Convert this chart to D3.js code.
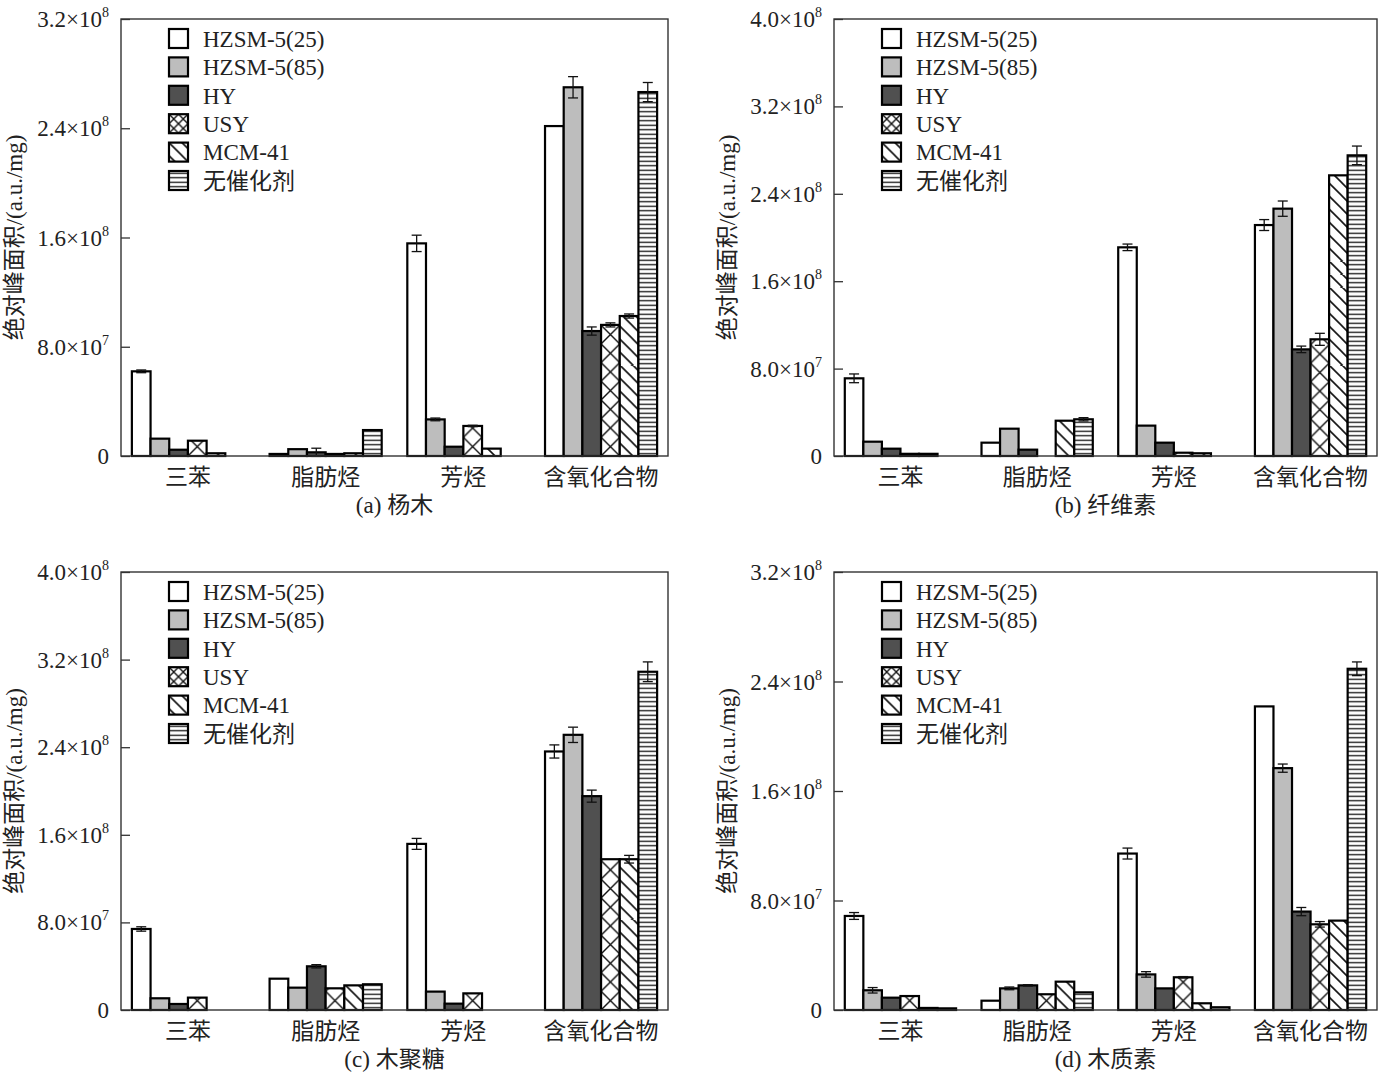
<!DOCTYPE html>
<html>
<head>
<meta charset="utf-8">
<script src="https://cdn.jsdelivr.net/npm/d3@7"></script>
<style>
  body { margin: 0; background: #fff; }
  text { font-family: "Liberation Serif", "Noto Sans CJK SC", serif; fill: #222; }
</style>
</head>
<body>
<svg id="chart" width="1379" height="1074"></svg>
<script>
// categories and series (values in units of 1e7 a.u./mg, null = no bar)
var categories = ['三苯', '脂肪烃', '芳烃', '含氧化合物'];
var catalysts = ['HZSM-5(25)', 'HZSM-5(85)', 'HY', 'USY', 'MCM-41', '无催化剂'];

// (a) 杨木
var poplarValues = [
  [6.2, 0.15, 15.57, 24.16],
  [1.27, 0.5, 2.68, 27.0],
  [0.46, 0.27, 0.68, 9.15],
  [1.12, 0.15, 2.2, 9.6],
  [0.2, 0.2, 0.54, 10.25],
  [null, 1.9, null, 26.65]
];
var poplarErrors = [
  [0.1, 0, 0.6, 0],
  [0, 0, 0.1, 0.78],
  [0, 0.3, 0, 0.3],
  [0, 0, 0.05, 0.15],
  [0, 0, 0, 0.15],
  [0, 0, 0, 0.7]
];

// (b) 纤维素
var celluloseValues = [
  [7.11, 1.22, 19.1, 21.14],
  [1.31, 2.5, 2.78, 22.64],
  [0.67, 0.58, 1.22, 9.76],
  [0.2, null, 0.3, 10.68],
  [0.2, 3.23, 0.25, 25.69],
  [null, 3.36, null, 27.52]
];
var celluloseErrors = [
  [0.4, 0, 0.3, 0.5],
  [0, 0, 0, 0.7],
  [0, 0, 0, 0.3],
  [0, 0, 0, 0.55],
  [0, 0, 0, 0],
  [0, 0.15, 0, 0.85]
];

// (c) 木聚糖
var xylanValues = [
  [7.4, 2.86, 15.17, 23.61],
  [1.07, 2.04, 1.68, 25.13],
  [0.55, 3.99, 0.58, 19.53],
  [1.13, 1.98, 1.52, 13.77],
  [null, 2.25, null, 13.77],
  [null, 2.35, null, 30.89]
];
var xylanErrors = [
  [0.2, 0, 0.5, 0.6],
  [0, 0, 0, 0.7],
  [0, 0.15, 0, 0.55],
  [0, 0, 0, 0],
  [0, 0, 0, 0.35],
  [0, 0, 0, 0.9]
];

// (d) 木质素
var ligninValues = [
  [6.87, 0.68, 11.43, 22.18],
  [1.44, 1.58, 2.6, 17.67],
  [0.9, 1.8, 1.58, 7.19],
  [1.02, 1.15, 2.39, 6.26],
  [0.15, 2.07, 0.49, 6.53],
  [0.12, 1.29, 0.2, 24.93]
];
var ligninErrors = [
  [0.25, 0, 0.4, 0],
  [0.2, 0.1, 0.2, 0.3],
  [0, 0.05, 0, 0.3],
  [0, 0, 0.05, 0.2],
  [0, 0, 0, 0],
  [0, 0, 0, 0.5]
];

var yTicksLow = [0, 8e7, 1.6e8, 2.4e8, 3.2e8];
var yTicksHigh = [0, 8e7, 1.6e8, 2.4e8, 3.2e8, 4.0e8];

var panels = [
  { id: 'a', title: '(a) 杨木', values: poplarValues, errors: poplarErrors, max: 3.2e8, ticks: yTicksLow,
    left: 121, right: 668, top: 19, bottom: 456 },
  { id: 'b', title: '(b) 纤维素', values: celluloseValues, errors: celluloseErrors, max: 4.0e8, ticks: yTicksHigh,
    left: 834, right: 1377, top: 19, bottom: 456 },
  { id: 'c', title: '(c) 木聚糖', values: xylanValues, errors: xylanErrors, max: 4.0e8, ticks: yTicksHigh,
    left: 121, right: 668, top: 572, bottom: 1010 },
  { id: 'd', title: '(d) 木质素', values: ligninValues, errors: ligninErrors, max: 3.2e8, ticks: yTicksLow,
    left: 834, right: 1377, top: 572, bottom: 1010 }
];

var UNIT = 1e7;
var fontSize = 23;
var fills = ['#ffffff', '#bdbdbd', '#505050', null, null, null];

var svg = d3.select('#chart');
svg.append('rect').attr('width', 1379).attr('height', 1074).attr('fill', '#fff');
var defs = svg.append('defs');

var patternCount = 0;

/**
 * Makes a hatch pattern anchored at (x, y) and returns its url.
 */
function makePattern(kind, x, y, size) {
  var id = 'pat' + (patternCount++);
  var p = defs.append('pattern')
    .attr('id', id)
    .attr('patternUnits', 'userSpaceOnUse')
    .attr('x', x).attr('y', y);
  p.append('rect').attr('fill', '#fff');
  var path;
  if (kind === 'cross') {
    p.attr('width', size).attr('height', size);
    p.select('rect').attr('width', size).attr('height', size);
    path = 'M0,0L' + size + ',' + size + 'M' + size + ',0L0,' + size;
    p.append('path').attr('d', path).attr('stroke', '#111').attr('stroke-width', 1.4);
  } else if (kind === 'diag') {
    var s = 13;
    p.attr('width', s).attr('height', s);
    p.select('rect').attr('width', s).attr('height', s);
    path = 'M-2,-2L' + (s + 2) + ',' + (s + 2) + 'M' + (s - 2) + ',-2L' + (s + 2) + ',2M-2,' + (s - 2) + 'L2,' + (s + 2);
    p.append('path').attr('d', path).attr('stroke', '#111').attr('stroke-width', 1.6);
  } else {
    var h = 4.5;
    p.attr('width', 10).attr('height', h);
    p.select('rect').attr('width', 10).attr('height', h);
    p.append('line').attr('x1', 0).attr('x2', 10).attr('y1', h / 2).attr('y2', h / 2)
      .attr('stroke', '#111').attr('stroke-width', 1.3);
  }
  return 'url(#' + id + ')';
}

function barFill(i, x, y, w) {
  if (fills[i]) return fills[i];
  if (i === 3) return makePattern('cross', x, y, w);
  if (i === 4) return makePattern('diag', x, y, w);
  return makePattern('horiz', x, y, w);
}

function tickLabel(sel, v) {
  if (v === 0) {
    sel.text('0');
    return;
  }
  var exp = Math.floor(Math.log10(v) + 1e-9);
  var mant = v / Math.pow(10, exp);
  sel.append('tspan').text(mant.toFixed(1) + '×10');
  sel.append('tspan').attr('font-size', 14).attr('dy', -10).text(exp);
}

panels.forEach(function (panel) {
  var g = svg.append('g').attr('class', 'panel-' + panel.id);

  var x0 = d3.scaleBand()
    .domain(categories)
    .range([panel.left, panel.right])
    .paddingInner(0.186)
    .paddingOuter(0.079);
  var x1 = d3.scaleBand()
    .domain(d3.range(catalysts.length))
    .range([0, x0.bandwidth()]);
  var y = d3.scaleLinear()
    .domain([0, panel.max])
    .range([panel.bottom, panel.top]);

  // y axis: ticks point inward, labels on the left
  var yAxis = d3.axisRight(y).tickValues(panel.ticks).tickSize(9).tickFormat('');
  var ax = g.append('g')
    .attr('transform', 'translate(' + panel.left + ',0)')
    .call(yAxis);
  ax.select('.domain').remove();
  ax.selectAll('.tick line').attr('stroke', '#333').attr('stroke-width', 1.3);

  panel.ticks.forEach(function (t) {
    var lab = g.append('text')
      .attr('x', panel.left - 12)
      .attr('y', y(t))
      .attr('dy', '0.35em')
      .attr('text-anchor', 'end')
      .attr('font-size', fontSize);
    tickLabel(lab, t);
  });

  // bars
  var bars = [];
  panel.values.forEach(function (series, i) {
    series.forEach(function (v, j) {
      if (v == null) return;
      bars.push({ i: i, cat: categories[j], v: v * UNIT, err: panel.errors[i][j] * UNIT });
    });
  });

  g.selectAll('rect.bar')
    .data(bars)
    .enter().append('rect')
    .attr('class', 'bar')
    .attr('x', function (d) { return x0(d.cat) + x1(d.i); })
    .attr('y', function (d) { return y(d.v); })
    .attr('width', x1.bandwidth())
    .attr('height', function (d) { return y(0) - y(d.v); })
    .attr('fill', function (d) {
      return barFill(d.i, x0(d.cat) + x1(d.i), y(0), x1.bandwidth());
    })
    .attr('stroke', '#000')
    .attr('stroke-width', 2.2);

  // error bars
  var cap = 5;
  var errs = g.selectAll('g.err')
    .data(bars.filter(function (d) { return d.err > 0; }))
    .enter().append('g')
    .attr('class', 'err')
    .attr('stroke', '#111')
    .attr('stroke-width', 1.3);
  errs.append('line')
    .attr('x1', function (d) { return x0(d.cat) + x1(d.i) + x1.bandwidth() / 2; })
    .attr('x2', function (d) { return x0(d.cat) + x1(d.i) + x1.bandwidth() / 2; })
    .attr('y1', function (d) { return y(d.v - d.err); })
    .attr('y2', function (d) { return y(d.v + d.err); });
  [1, -1].forEach(function (sign) {
    errs.append('line')
      .attr('x1', function (d) { return x0(d.cat) + x1(d.i) + x1.bandwidth() / 2 - cap; })
      .attr('x2', function (d) { return x0(d.cat) + x1(d.i) + x1.bandwidth() / 2 + cap; })
      .attr('y1', function (d) { return y(d.v + sign * d.err); })
      .attr('y2', function (d) { return y(d.v + sign * d.err); });
  });

  // frame
  g.append('rect')
    .attr('x', panel.left).attr('y', panel.top)
    .attr('width', panel.right - panel.left)
    .attr('height', panel.bottom - panel.top)
    .attr('fill', 'none')
    .attr('stroke', '#333')
    .attr('stroke-width', 1.4);

  // category labels
  categories.forEach(function (c) {
    g.append('text')
      .attr('x', x0(c) + x0.bandwidth() / 2)
      .attr('y', panel.bottom + 29)
      .attr('text-anchor', 'middle')
      .attr('font-size', fontSize)
      .text(c);
  });

  // panel title
  g.append('text')
    .attr('x', (panel.left + panel.right) / 2)
    .attr('y', panel.bottom + 57)
    .attr('text-anchor', 'middle')
    .attr('font-size', fontSize)
    .text(panel.title);

  // y label
  var ly = (panel.top + panel.bottom) / 2;
  g.append('text')
    .attr('transform', 'translate(' + (panel.left - 99) + ',' + ly + ') rotate(-90)')
    .attr('text-anchor', 'middle')
    .attr('font-size', fontSize)
    .text('绝对峰面积/(a.u./mg)');

  // legend
  var sq = 19;
  var leg = g.append('g').attr('class', 'legend');
  catalysts.forEach(function (name, i) {
    var cy = panel.top + 19.5 + i * 28.4;
    var lx = panel.left + 48;
    var f;
    if (fills[i]) f = fills[i];
    else if (i === 3) f = makePattern('cross', lx, cy - sq / 2, sq / 2);
    else f = barFill(i, lx, cy - sq / 2, sq);
    leg.append('rect')
      .attr('x', lx).attr('y', cy - sq / 2)
      .attr('width', sq).attr('height', sq)
      .attr('fill', f)
      .attr('stroke', '#000')
      .attr('stroke-width', 2.2);
    leg.append('text')
      .attr('x', panel.left + 82)
      .attr('y', cy)
      .attr('dy', '0.36em')
      .attr('font-size', fontSize)
      .text(name);
  });
});
</script>
</body>
</html>
